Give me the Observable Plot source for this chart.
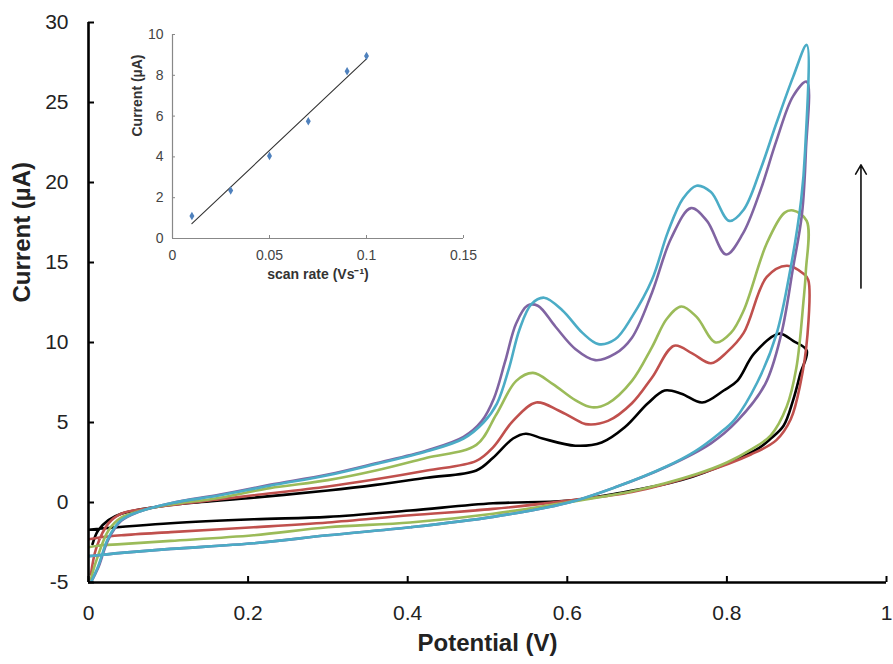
<!DOCTYPE html>
<html>
<head>
<meta charset="utf-8">
<script src="https://cdn.jsdelivr.net/npm/d3@7"></script>
<script src="https://cdn.jsdelivr.net/npm/@observablehq/plot@0.6"></script>
<style>
  html, body { margin: 0; padding: 0; background: #fff; }
  #wrap { position: relative; width: 893px; height: 664px; overflow: hidden; }
  #inset { position: absolute; left: 110px; top: 10px; }
</style>
</head>
<body>
<div id="wrap"><div id="main"></div><div id="inset"></div></div>
<script>
// ---------- Main chart data: cyclic voltammograms (potential V, current µA) ----------
const xTicks = [0, 0.2, 0.4, 0.6, 0.8, 1];
const yTicks = [-5, 0, 5, 10, 15, 20, 25, 30];

const blackCV = [
  [0.005,-2.6],[0.012,-1.75],[0.025,-1.1],[0.041,-0.7],[0.083,-0.3],[0.124,-0.05],[0.207,0.3],[0.30,0.75],
  [0.36,1.1],[0.424,1.55],[0.486,2.0],[0.507,2.8],[0.532,4.0],[0.548,4.3],[0.569,4.0],[0.61,3.55],
  [0.643,3.75],[0.672,4.7],[0.701,6.2],[0.722,7.0],[0.743,6.8],[0.769,6.25],[0.796,7.0],[0.813,7.6],
  [0.834,9.3],[0.865,10.55],[0.883,10.1],[0.9,9.5],
  [0.892,8.05],[0.883,6.4],[0.871,4.8],[0.855,4.0],[0.84,3.4],[0.805,2.55],[0.743,1.4],[0.66,0.55],
  [0.598,0.1],[0.507,-0.05],[0.403,-0.5],[0.30,-0.9],[0.207,-1.05],[0.103,-1.3],[0,-1.7]
];
const redCV = [
  [0.003,-4.5],[0.01,-2.8],[0.025,-1.3],[0.041,-0.7],[0.083,-0.3],[0.165,0.2],[0.207,0.45],[0.30,1.0],
  [0.36,1.45],[0.424,2.0],[0.486,2.6],[0.507,3.45],[0.532,5.1],[0.561,6.25],[0.589,5.75],[0.61,5.2],
  [0.623,4.9],[0.651,5.1],[0.681,6.2],[0.706,7.8],[0.734,9.8],[0.757,9.3],[0.78,8.7],[0.8,9.4],
  [0.821,10.6],[0.85,14.1],[0.875,14.8],[0.896,14.3],[0.902,13.9],
  [0.901,10.5],[0.892,7.4],[0.88,5.2],[0.862,3.9],[0.83,3.0],[0.763,1.75],[0.681,0.65],[0.598,0.1],
  [0.507,-0.4],[0.403,-0.8],[0.30,-1.25],[0.207,-1.55],[0.103,-1.85],[0.041,-2.05],[0.012,-2.2],[0,-2.3]
];
const greenCV = [
  [0.003,-4.8],[0.01,-3.6],[0.025,-1.75],[0.041,-0.95],[0.083,-0.3],[0.165,0.3],[0.227,0.9],[0.30,1.4],
  [0.36,2.0],[0.424,2.8],[0.486,3.6],[0.511,5.5],[0.536,7.6],[0.557,8.1],[0.582,7.4],[0.61,6.4],
  [0.631,5.95],[0.651,6.2],[0.681,7.6],[0.706,9.7],[0.725,11.5],[0.743,12.25],[0.762,11.6],[0.786,10.0],
  [0.805,10.6],[0.821,12.0],[0.85,16.2],[0.872,18.1],[0.883,18.25],[0.9,17.6],
  [0.899,14.5],[0.896,12.6],[0.887,8.4],[0.875,6.0],[0.855,4.2],[0.83,3.3],[0.8,2.5],[0.763,1.8],
  [0.681,0.7],[0.598,0],[0.507,-0.7],[0.403,-1.25],[0.30,-1.55],[0.207,-2.05],[0.103,-2.4],[0.041,-2.6],
  [0.012,-2.7],[0,-2.8]
];
const purpleCV = [
  [0.003,-5],[0.012,-4.1],[0.025,-2.3],[0.041,-1.15],[0.062,-0.6],[0.103,-0.05],[0.165,0.5],[0.227,1.1],
  [0.30,1.75],[0.36,2.45],[0.424,3.25],[0.47,4.1],[0.493,5.1],[0.508,6.5],[0.522,8.8],[0.536,11.2],
  [0.55,12.3],[0.563,12.3],[0.585,11.0],[0.61,9.6],[0.635,8.9],[0.66,9.3],[0.681,10.3],[0.706,13.1],
  [0.73,16.5],[0.755,18.4],[0.775,17.6],[0.799,15.5],[0.82,16.8],[0.842,19.5],[0.862,22.6],[0.883,25.4],
  [0.9,26.3],
  [0.899,22],[0.894,18],[0.883,14.7],[0.868,10.5],[0.848,7.4],[0.813,5.1],[0.78,3.7],[0.725,2.25],
  [0.66,0.95],[0.598,-0.05],[0.507,-0.9],[0.403,-1.55],[0.30,-2.05],[0.207,-2.55],[0.103,-2.9],
  [0.041,-3.15],[0.012,-3.3],[0,-3.35]
];
const cyanCV = [
  [0.003,-5],[0.012,-4.0],[0.025,-2.2],[0.041,-1.1],[0.062,-0.6],[0.103,-0.05],[0.165,0.45],[0.227,1.05],
  [0.30,1.7],[0.36,2.4],[0.424,3.2],[0.47,4.0],[0.495,5.0],[0.512,6.2],[0.527,8.4],[0.54,10.8],
  [0.555,12.4],[0.571,12.8],[0.594,12.0],[0.619,10.6],[0.639,9.9],[0.66,10.2],[0.681,11.6],[0.706,13.9],
  [0.726,16.9],[0.745,19.0],[0.762,19.8],[0.78,19.4],[0.803,17.6],[0.821,18.3],[0.842,20.8],[0.862,23.7],
  [0.883,26.6],[0.9,28.6],
  [0.898,22],[0.893,18.9],[0.88,14.7],[0.862,10.5],[0.838,7.5],[0.81,5.2],[0.79,4.3],[0.76,3.2],
  [0.722,2.2],[0.66,0.95],[0.598,-0.05],[0.507,-0.9],[0.403,-1.55],[0.30,-2.05],[0.207,-2.55],
  [0.103,-2.9],[0.041,-3.15],[0.012,-3.3],[0,-3.35]
];
const seriesColors = {black: "#000000", red: "#c0504d", green: "#9bbb59", purple: "#8064a2", cyan: "#4bacc6"};
const arrowNote = [{x: 0.968, y1: 13.4, y2: 21.1}];

// ---------- Inset data: peak current vs scan rate ----------
const scanRates = [0.01, 0.03, 0.05, 0.07, 0.09, 0.1];
const peakCurrents = [1.1, 2.35, 4.05, 5.75, 8.2, 8.95];
const insetXTicks = [0, 0.05, 0.1, 0.15];
const insetYTicks = [0, 2, 4, 6, 8, 10];

const font = "'Liberation Sans', Arial, sans-serif";
const toRows = (arr) => arr.map(([x, y]) => ({x, y}));
const cvLine = (arr, color) => Plot.line(toRows(arr), {
  x: "x", y: "y", stroke: color, strokeWidth: 2.6, curve: "catmull-rom", clip: true
});

const main = Plot.plot({
  width: 893, height: 664,
  marginLeft: 88, marginRight: 7, marginTop: 22, marginBottom: 82,
  style: {fontFamily: font, fontSize: "21px", color: "#222", background: "transparent"},
  x: {domain: [0, 1]},
  y: {domain: [-5, 30]},
  marks: [
    cvLine(blackCV, seriesColors.black),
    cvLine(redCV, seriesColors.red),
    cvLine(greenCV, seriesColors.green),
    cvLine(purpleCV, seriesColors.purple),
    cvLine(cyanCV, seriesColors.cyan),
    Plot.arrow(arrowNote, {x1: "x", x2: "x", y1: "y1", y2: "y2", stroke: "#111", strokeWidth: 1.6, headLength: 10}),
    Plot.axisX({ticks: xTicks, tickFormat: d => String(d), tickSize: -6, tickPadding: 29, strokeWidth: 2, stroke: "#000", fontSize: 21, label: null}),
    Plot.axisY({ticks: yTicks, tickFormat: d => String(d), tickSize: -6, tickPadding: 26, strokeWidth: 2, stroke: "#000", fontSize: 21, label: null}),
    Plot.ruleX([0], {stroke: "#000", strokeWidth: 2.6}),
    Plot.ruleY([-5], {stroke: "#000", strokeWidth: 2.6}),
    Plot.text(["Potential (V)"], {frameAnchor: "bottom", dy: 68, fontSize: 24, fontWeight: "bold", fill: "#222"}),
    Plot.text(["Current (µA)"], {frameAnchor: "left", dx: -66, rotate: -90, fontSize: 24, fontWeight: "bold", fill: "#222"})
  ]
});
document.getElementById("main").appendChild(main);

const insetRows = scanRates.map((x, i) => ({x, y: peakCurrents[i]}));
const inset = Plot.plot({
  width: 370, height: 290,
  marginLeft: 62, marginRight: 17, marginTop: 24, marginBottom: 62,
  style: {fontFamily: font, fontSize: "14px", color: "#444", background: "transparent"},
  x: {domain: [0, 0.15]},
  y: {domain: [0, 10]},
  marks: [
    Plot.ruleX([0], {stroke: "#888", strokeWidth: 1.2}),
    Plot.ruleY([0], {stroke: "#888", strokeWidth: 1.2}),
    Plot.axisX({ticks: insetXTicks, tickFormat: d => String(d), tickSize: -3, tickPadding: 15, stroke: "#888", fontSize: 14, label: null}),
    Plot.axisY({ticks: insetYTicks, tickFormat: d => String(d), tickSize: -3, tickPadding: 12, stroke: "#888", fontSize: 14, label: null}),
    Plot.linearRegressionY(insetRows, {x: "x", y: "y", stroke: "#333", strokeWidth: 1.1, ci: 0}),
    Plot.dot(insetRows, {x: "x", y: "y", symbol: "diamond", r: 2.6, fill: "#4f81bd", stroke: "none"}),
    Plot.text(["scan rate (Vs⁻¹)"], {frameAnchor: "bottom", dy: 40, fontSize: 14, fontWeight: "bold", fill: "#333"}),
    Plot.text(["Current (µA)"], {frameAnchor: "left", dx: -35, rotate: -90, fontSize: 14, fontWeight: "bold", fill: "#333"})
  ]
});
document.getElementById("inset").appendChild(inset);
</script>
</body>
</html>
